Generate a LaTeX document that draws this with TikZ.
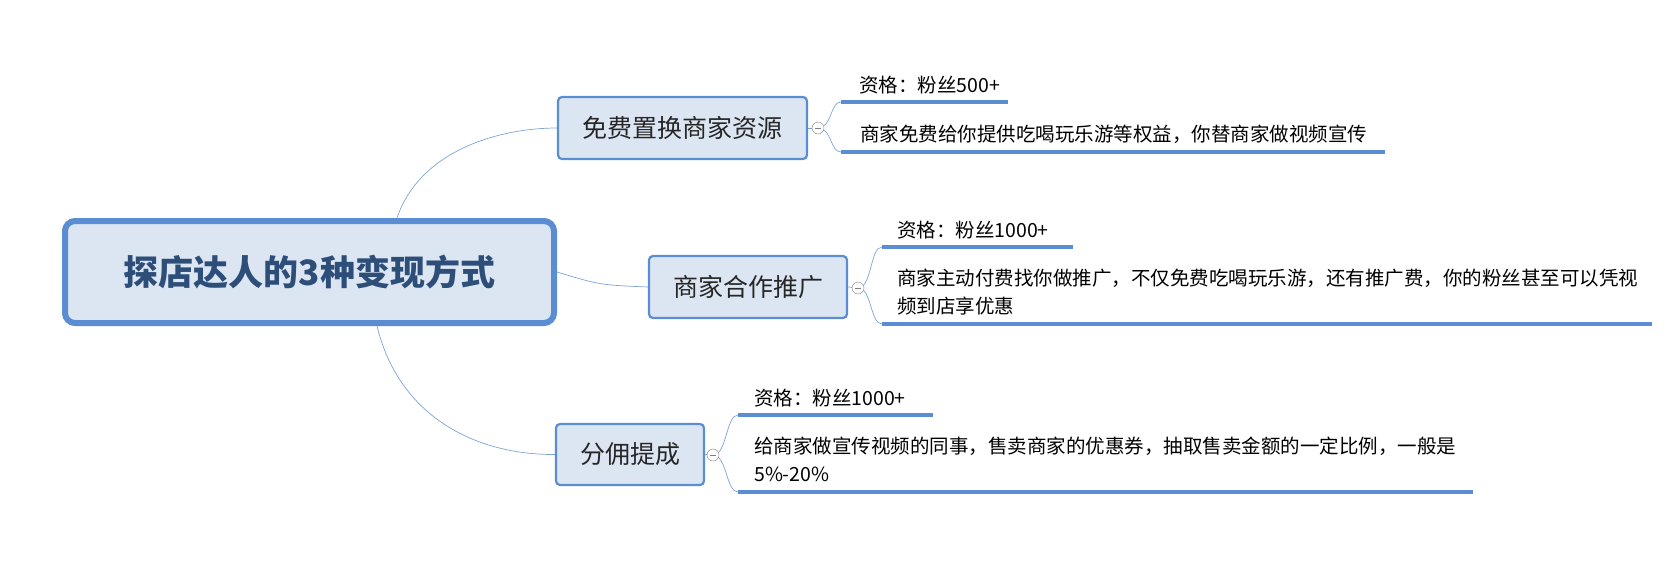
\documentclass[tikz,border=0pt]{standalone}
\usepackage{fontspec}
\setmainfont{Noto Sans CJK SC}
\definecolor{bd}{HTML}{5B8DD3}
\definecolor{fl}{HTML}{DCE6F2}
\definecolor{tt}{HTML}{2E4E7A}
\definecolor{lc}{HTML}{7FA3D8}
\begin{document}
\begin{tikzpicture}[x=1pt,y=-1pt,
 box/.style={draw=bd,fill=fl,rounded corners=4pt,line width=2.2pt,text=black!85},
 ul/.style={draw=bd,line width=3.6pt},
 ln/.style={draw=lc,line width=0.7pt},
 col/.style={circle,draw=gray,fill=white,inner sep=0pt,minimum size=12pt},
 t/.style={anchor=west,font=\fontsize{19.5}{28}\selectfont,inner sep=0pt,align=left}]
\useasboundingbox (0,0) rectangle (1679,574);
\node[box,line width=6pt,rounded corners=10pt,minimum width=489pt,minimum height=102pt,font=\fontsize{35}{40}\selectfont\bfseries,text=tt] (c) at (309.5,272) {探店达人的3种变现方式};
\node[box,minimum width=249pt,minimum height=62pt,font=\fontsize{25}{30}\selectfont] (b1) at (682.5,128) {免费置换商家资源};
\node[box,minimum width=198pt,minimum height=62pt,font=\fontsize{25}{30}\selectfont] (b2) at (748,287) {商家合作推广};
\node[box,minimum width=148pt,minimum height=61pt,font=\fontsize{25}{30}\selectfont] (b3) at (630,454.5) {分佣提成};
\draw[ln] (c.north west) ++(335,0) coordinate (c1) .. controls (420,150) and (500,128) .. (b1.west);
\draw[ln] (c.east) .. controls (600,285) .. (b2.west);
\draw[ln] (c.south west) ++(315,0) coordinate (c3) .. controls (400,420) and (480,455) .. (b3.west);
\draw[ln] (b1.east)--(818,128); \draw[ln] (b2.east)--(858,288); \draw[ln] (b3.east)--(713,455);
% branch1
\coordinate (a1) at (841,102); \coordinate (a2) at (1008,102);
\coordinate (a3) at (841,152); \coordinate (a4) at (1385,152);
\draw[ul] (a1)--(a2); \draw[ul] (a3)--(a4);
\draw[ln] (818,128) .. controls (832,128) and (830,102) .. (a1);
\draw[ln] (818,128) .. controls (832,128) and (830,152) .. (a3);
\node[col] (k1) at (818,128) {}; \draw[gray] (k1.center)++(-3,0)--++(6,0);
\node[t] (t11) at (859,85) {资格：粉丝500+};
\node[t] (t12) at (860,134) {商家免费给你提供吃喝玩乐游等权益，你替商家做视频宣传};
% branch2
\coordinate (d1) at (882,247); \coordinate (d2) at (1073,247);
\coordinate (d3) at (882,324); \coordinate (d4) at (1652,324);
\draw[ul] (d1)--(d2); \draw[ul] (d3)--(d4);
\draw[ln] (858,288) .. controls (872,288) and (870,247) .. (d1);
\draw[ln] (858,288) .. controls (872,288) and (870,324) .. (d3);
\node[col] (k2) at (858,288) {}; \draw[gray] (k2.center)++(-3,0)--++(6,0);
\node[t] (t21) at (897,230) {资格：粉丝1000+};
\node[t] (t22) at (897,292) {商家主动付费找你做推广，不仅免费吃喝玩乐游，还有推广费，你的粉丝甚至可以凭视\\频到店享优惠};
% branch3
\coordinate (e1) at (738,415); \coordinate (e2) at (933,415);
\coordinate (e3) at (738,492); \coordinate (e4) at (1473,492);
\draw[ul] (e1)--(e2); \draw[ul] (e3)--(e4);
\draw[ln] (713,455) .. controls (727,455) and (726,415) .. (e1);
\draw[ln] (713,455) .. controls (727,455) and (726,492) .. (e3);
\node[col] (k3) at (713,455) {}; \draw[gray] (k3.center)++(-3,0)--++(6,0);
\node[t] (t31) at (754,398) {资格：粉丝1000+};
\node[t] (t32) at (754,459) {给商家做宣传视频的同事，售卖商家的优惠券，抽取售卖金额的一定比例，一般是\\5\%-20\%};
\end{tikzpicture}
\end{document}
